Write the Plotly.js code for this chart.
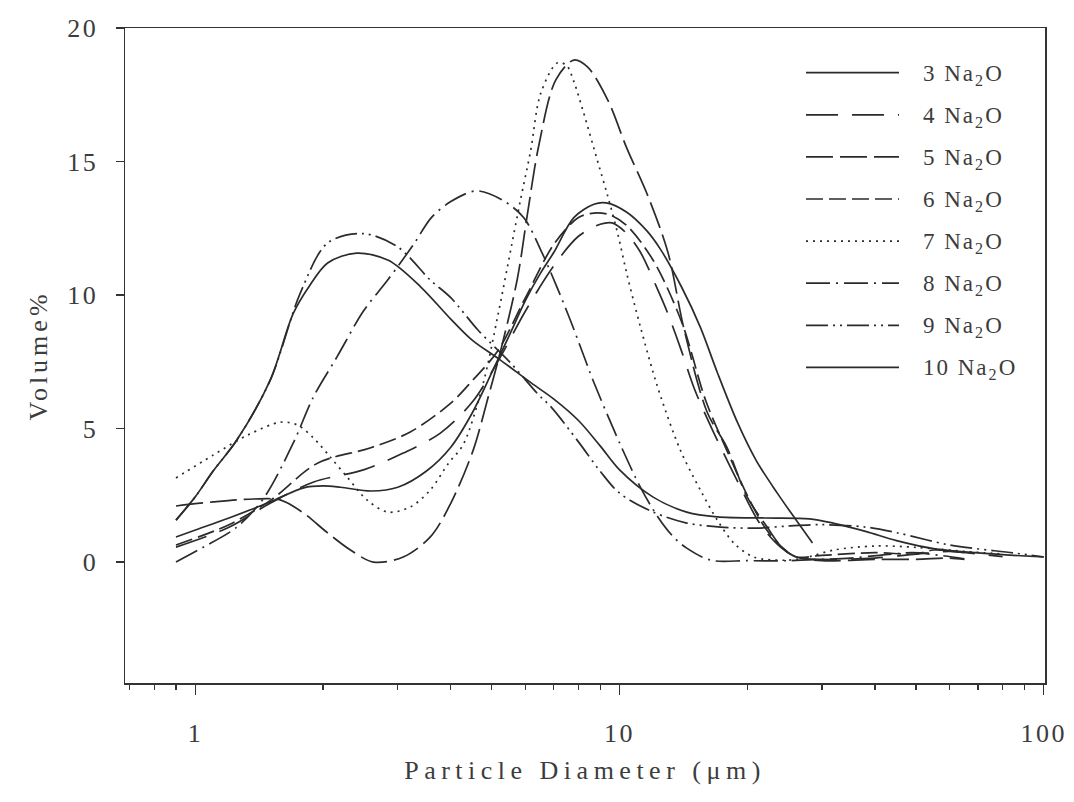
<!DOCTYPE html>
<html>
<head>
<meta charset="utf-8">
<script src="https://cdn.plot.ly/plotly-3.0.1.min.js"></script>
<style>
  html, body { margin: 0; padding: 0; background: #fff; }
  #chart { width: 1074px; height: 802px; }
  .xtitle { letter-spacing: 5.5px; }
  .ytitle { letter-spacing: 4px; }
  .xtick text, .ytick text { letter-spacing: 2.5px; }
  .annotation-text { letter-spacing: 2px; }
</style>
</head>
<body>
<div id="chart"></div>
<script>
// ---- Data ----
const seriesNames = ['3 Na<sub>2</sub>O','4 Na<sub>2</sub>O','5 Na<sub>2</sub>O','6 Na<sub>2</sub>O',
                     '7 Na<sub>2</sub>O','8 Na<sub>2</sub>O','9 Na<sub>2</sub>O','10 Na<sub>2</sub>O'];

const x3 = [0.9,1.0,1.2,1.5,1.8,2.0,2.2,2.6,3.0,3.5,4.0,4.5,5.0,5.5,6.0,6.5,7.0,7.8,8.7,9.3,10.4,11.6,12.5,14,15.5,17,19,21,23.5,26,28.5];
const y3 = [0.94,1.2,1.65,2.25,2.78,2.85,2.8,2.66,2.8,3.4,4.3,5.6,7.1,8.5,9.8,10.8,11.6,12.9,13.4,13.45,13.1,12.4,11.7,10.3,8.8,7.1,5.2,3.8,2.6,1.6,0.71];

const x4 = [0.9,1.2,1.5,1.9,2.49,3.09,3.78,4.5,5.16,6,7,8,9,9.6,10.4,11.2,12.3,13,14,15,16.5,19,21.5,24,26,30,40,50,60,70,80];
const y4 = [0.56,1.3,2.2,3.0,3.45,4.08,4.83,6.0,7.5,9.4,11.1,12.2,12.65,12.7,12.3,11.6,10.2,9.3,7.9,6.5,5.0,3.0,1.4,0.55,0.2,0.1,0.15,0.3,0.4,0.3,0.2];

const x5 = [0.9,1.1,1.37,1.59,1.8,2.05,2.32,2.63,3.09,3.58,4.0,4.52,4.88,5.24,5.74,6.06,6.45,7.07,7.8,8.4,9.38,10.4,11.6,13.0,14.2,16.1,17.9,20,22.3,24,26,30,40,50,60,65];
const y5 = [2.1,2.25,2.36,2.32,1.83,1.09,0.45,0.0,0.19,0.94,2.2,4.2,6.07,7.9,10.6,13.0,15.6,18.05,18.8,18.54,17.3,15.5,13.8,11.6,8.7,5.6,4.3,2.43,1.3,0.6,0.2,0.05,0.1,0.1,0.15,0.1];

const x6 = [0.9,1.2,1.5,1.94,2.58,3.21,4.0,4.5,5.16,6.0,7.0,8.0,8.7,9.5,10.4,12,14,16,18,20,22,24,26,30,40,50,55,65];
const y6 = [0.64,1.4,2.3,3.7,4.27,4.87,5.95,6.8,7.9,9.9,11.9,12.9,13.07,13.0,12.6,11.3,9.0,6.0,4.1,2.5,1.3,0.6,0.2,0.25,0.35,0.3,0.45,0.35];

const x7 = [0.9,1.1,1.33,1.59,1.74,1.9,2.08,2.28,2.54,2.84,3.21,3.58,3.95,4.28,4.77,5.16,5.54,5.84,6.17,6.52,7.14,7.5,7.8,8.2,8.88,9.38,9.9,10.4,11.2,12.0,12.5,13.9,15.5,17,18.6,20.7,24.9,28,32,40,50,65,80];
const y7 = [3.15,4.0,4.76,5.24,5.13,4.64,3.93,3.18,2.32,1.87,2.06,2.7,3.7,4.4,6.7,9.2,11.7,13.56,15.4,17.56,18.7,18.6,18.0,16.9,15.0,13.7,12.3,10.8,8.8,7.1,6.2,4.2,2.7,1.57,0.71,0.19,0.07,0.2,0.45,0.6,0.55,0.4,0.3];

const x8 = [0.9,1.045,1.25,1.45,1.7,1.9,2.16,2.49,2.84,3.27,3.6,4.0,4.6,5.3,5.94,6.6,7.55,8.2,8.66,10,11.2,12.3,13.4,14.4,16.4,20,25,30,35,41,49,57,65];
const y8 = [0.0,0.56,1.3,2.4,4.45,6.2,7.7,9.4,10.56,11.9,12.9,13.5,13.9,13.55,12.9,11.5,9.3,7.8,6.8,4.46,2.8,1.7,0.94,0.52,0.07,0.05,0.05,0.1,0.15,0.25,0.35,0.25,0.12];

const x9 = [0.9,1.0,1.1,1.25,1.5,1.77,2.05,2.49,3.0,3.58,4.0,4.63,5.54,6.41,6.9,8.0,9.0,10,12,14.4,17.3,21,25,30,38,45,60,85,100];
const y9 = [1.57,2.45,3.4,4.55,6.8,10.1,11.95,12.3,11.8,10.56,9.9,8.7,7.45,6.3,5.8,4.5,3.4,2.58,1.87,1.46,1.31,1.27,1.35,1.4,1.31,1.1,0.64,0.34,0.19];

const x10 = [0.9,1.0,1.1,1.25,1.5,1.7,1.85,2.05,2.4,2.85,3.4,4.0,4.5,5.2,6.2,7.0,8.0,9.0,10,12,14.4,17,22,28,32,38,45,55,70,85,100];
const y10 = [1.57,2.45,3.4,4.55,6.8,9.3,10.3,11.2,11.57,11.3,10.3,9.1,8.3,7.6,6.7,6.1,5.3,4.35,3.45,2.43,1.87,1.69,1.65,1.62,1.45,1.15,0.8,0.5,0.34,0.25,0.19];

const xs = [x3,x4,x5,x6,x7,x8,x9,x10];
const ys = [y3,y4,y5,y6,y7,y8,y9,y10];

const xTickVals = [1, 10, 100];
const xTickText = ['1', '10', '100'];
const xMinorVals = [0.7,0.8,0.9,2,3,4,5,6,7,8,9,20,30,40,50,60,70,80,90];
const yTickVals = [0, 5, 10, 15, 20];

// ---- Styles ----
const dashes = ['solid','32px,14px','27px,7px','17px,6px','2px,5px','24px,6px,2px,6px','22px,5px,2px,5px,2px,5px','solid'];
const lineColor = '#2b2b2b';
const textColor = '#3c3c3c';
const fontFam = 'Liberation Serif, Times New Roman, serif';

const traces = xs.map((xv, i) => ({
  type: 'scatter', mode: 'lines', x: xv, y: ys[i], name: seriesNames[i],
  line: { color: lineColor, width: 1.7, dash: dashes[i], shape: 'spline', smoothing: 0.9 },
  showlegend: false, hoverinfo: 'skip'
}));

// manual legend with long line samples (plot area: 920 x 655 px)
const shapes = [], annotations = [];
seriesNames.forEach((nm, i) => {
  const py = 72.7 + 42.1 * i;            // pixel row in the page
  const yp = (683 - py) / 655;           // to paper coords
  shapes.push({ type: 'line', xref: 'paper', yref: 'paper', x0: 0.7402, x1: 0.8413, y0: yp, y1: yp,
                line: { color: lineColor, width: 1.7, dash: dashes[i] } });
  annotations.push({ xref: 'paper', yref: 'paper', x: 0.8652, y: yp, xanchor: 'left', yanchor: 'middle',
                     yshift: -2, text: nm, showarrow: false, font: { family: fontFam, size: 23, color: textColor } });
});

const layout = {
  width: 1074, height: 802,
  margin: { l: 125, r: 29, t: 28, b: 119 },
  paper_bgcolor: '#fff', plot_bgcolor: '#fff',
  font: { family: fontFam, color: textColor, size: 24 },
  showlegend: false,
  xaxis: {
    type: 'log', range: [-0.166, 2.003],
    tickmode: 'array', tickvals: xTickVals, ticktext: xTickText,
    ticks: 'outside', ticklen: 10, tickwidth: 1.3, tickcolor: '#333',
    minor: { tickmode: 'array', tickvals: xMinorVals, ticks: 'outside', ticklen: 5, tickwidth: 1.2, tickcolor: '#333', showgrid: false },
    showline: true, linecolor: '#333', linewidth: 1.5, mirror: true,
    showgrid: false, zeroline: false,
    ticklabelstandoff: 16,
    tickfont: { family: fontFam, size: 26, color: textColor },
    title: { text: 'Particle Diameter (μm)', standoff: 14, font: { family: fontFam, size: 26, color: textColor } }
  },
  yaxis: {
    range: [-4.53, 20],
    tickmode: 'array', tickvals: yTickVals,
    ticks: 'outside', ticklen: 8, tickwidth: 1.3, tickcolor: '#333',
    showline: true, linecolor: '#333', linewidth: 1.5, mirror: true,
    showgrid: false, zeroline: false,
    ticklabelstandoff: 12,
    tickfont: { family: fontFam, size: 26, color: textColor },
    title: { text: 'Volume%', standoff: 12, font: { family: fontFam, size: 26, color: textColor } }
  },
  shapes: shapes,
  annotations: annotations
};

Plotly.newPlot('chart', traces, layout, { displayModeBar: false, staticPlot: true });
</script>
</body>
</html>
